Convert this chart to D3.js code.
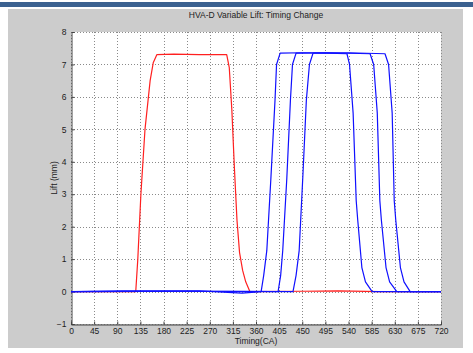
<!DOCTYPE html>
<html>
<head>
<meta charset="utf-8">
<script src="https://cdn.jsdelivr.net/npm/d3@7"></script>
<style>
  body { margin: 0; background: #fff; }
  svg { display: block; }
  text { font-family: "Liberation Sans", Arial, sans-serif; fill: #222; }
</style>
</head>
<body>
<svg id="chart" width="473" height="353"></svg>
<script>
// ---- data ----
const title = "HVA-D Variable Lift:  Timing Change";
const xLabel = "Timing(CA)";
const yLabel = "Lift (mm)";
const xTicks = [0, 45, 90, 135, 180, 225, 270, 315, 360, 405, 450, 495, 540, 585, 630, 675, 720];
const yTicks = [-1, 0, 1, 2, 3, 4, 5, 6, 7, 8];

// red curve (reference timing)
const redAngle = [0, 126, 130, 136, 144, 150, 154, 160, 167, 200, 250, 303, 308, 313, 318, 323, 328, 334, 340, 348, 450, 520, 600, 720];
const redLift  = [0, 0, 1.0, 3.0, 5.0, 5.9, 6.5, 7.05, 7.3, 7.32, 7.3, 7.3, 6.9, 5.6, 3.8, 2.2, 1.2, 0.65, 0.3, 0, 0.01, 0.02, 0, 0];

// blue curves (shifted timings)
const blueAAngle = [0, 100, 250, 333, 370, 375, 381, 389, 397, 400, 407, 450, 500, 537, 542, 549, 555, 558, 566, 573, 586, 650, 720];
const blueALift  = [0, 0.02, 0.02, -0.05, 0, 0.5, 1.26, 3.5, 5.9, 7.0, 7.35, 7.36, 7.35, 7.33, 7.0, 5.5, 2.8, 2.2, 0.74, 0.3, 0, 0, 0];
const blueBAngle = [0, 200, 403, 408, 412, 420, 427, 431, 438, 500, 582, 589, 596, 601, 604, 613, 620, 634, 720];
const blueBLift  = [0, 0.01, 0, 0.5, 1.26, 3.5, 5.9, 7.0, 7.35, 7.36, 7.33, 7.0, 5.5, 2.8, 2.2, 0.74, 0.3, 0, 0];
const blueCAngle = [0, 300, 432, 438, 444, 451, 458, 464, 471, 540, 611, 618, 625, 629, 632, 641, 648, 660, 720];
const blueCLift  = [0, 0.01, 0, 0.5, 1.26, 3.5, 5.9, 7.0, 7.35, 7.36, 7.33, 7.0, 5.5, 2.8, 2.2, 0.74, 0.3, 0, 0];

const series = [
  { color: "#ff2020", angle: redAngle, lift: redLift },
  { color: "#1010ff", angle: blueAAngle, lift: blueALift },
  { color: "#1010ff", angle: blueBAngle, lift: blueBLift },
  { color: "#1010ff", angle: blueCAngle, lift: blueCLift }
];

// ---- drawing ----
const svg = d3.select("#chart");
const W = 473, H = 353;
const plot = { left: 71, right: 441, top: 32, bottom: 324 };

// window chrome
svg.append("rect").attr("x", 0).attr("y", 0).attr("width", W).attr("height", H).attr("fill", "#fff");
svg.append("rect").attr("x", 0).attr("y", 2).attr("width", W).attr("height", 5).attr("fill", "#3b6190");
svg.append("rect").attr("x", 8).attr("y", 9).attr("width", 455).attr("height", 339).attr("fill", "#cccccc");

const x = d3.scaleLinear().domain([0, 720]).range([plot.left, plot.right]);
const y = d3.scaleLinear().domain([-1, 8]).range([plot.bottom, plot.top]);

svg.append("rect")
  .attr("x", plot.left).attr("y", plot.top)
  .attr("width", plot.right - plot.left).attr("height", plot.bottom - plot.top)
  .attr("fill", "#fff");

// grid
const grid = svg.append("g").attr("stroke", "#8a8a8a").attr("stroke-dasharray", "1,2").attr("stroke-width", 1);
xTicks.forEach(t => {
  const px = Math.round(x(t)) + 0.5;
  grid.append("line").attr("x1", px).attr("x2", px).attr("y1", plot.top).attr("y2", plot.bottom);
});
yTicks.forEach(t => {
  const py = Math.round(y(t)) + 0.5;
  grid.append("line").attr("x1", plot.left).attr("x2", plot.right).attr("y1", py).attr("y2", py);
});

// axes
const xAxis = d3.axisBottom(x).tickValues(xTicks).tickSize(-3).tickPadding(3).tickFormat(d3.format("d"));
const yAxis = d3.axisLeft(y).tickValues(yTicks).tickSize(-3).tickPadding(5).tickFormat(d3.format("d"));

const gx = svg.append("g").attr("transform", `translate(0,${Math.round(plot.bottom) + 0.5})`).call(xAxis);
const gy = svg.append("g").attr("transform", `translate(${Math.round(plot.left) + 0.5},0)`).call(yAxis);
[gx, gy].forEach(g => {
  g.select(".domain").attr("stroke", "#444");
  g.selectAll(".tick line").attr("stroke", "#444");
  g.selectAll(".tick text").attr("font-size", "8.5px").attr("fill", "#222")
    .style("font-family", "'Liberation Sans', Arial, sans-serif");
});

// lines
const line = d3.line().x(d => x(d[0])).y(d => y(d[1]));
series.forEach(s => {
  const pts = s.angle.map((a, i) => [a, s.lift[i]]);
  svg.append("path").datum(pts)
    .attr("fill", "none").attr("stroke", s.color).attr("stroke-width", 1.2)
    .attr("stroke-linejoin", "round").attr("d", line);
});

// labels
svg.append("text").attr("x", (plot.left + plot.right) / 2).attr("y", 18)
  .attr("text-anchor", "middle").attr("font-size", "8.5px").text(title);
svg.append("text").attr("x", (plot.left + plot.right) / 2).attr("y", 344)
  .attr("text-anchor", "middle").attr("font-size", "8.5px").text(xLabel);
svg.append("text").attr("transform", `translate(57,${(plot.top + plot.bottom) / 2}) rotate(-90)`)
  .attr("text-anchor", "middle").attr("font-size", "8.5px").text(yLabel);
</script>
</body>
</html>
